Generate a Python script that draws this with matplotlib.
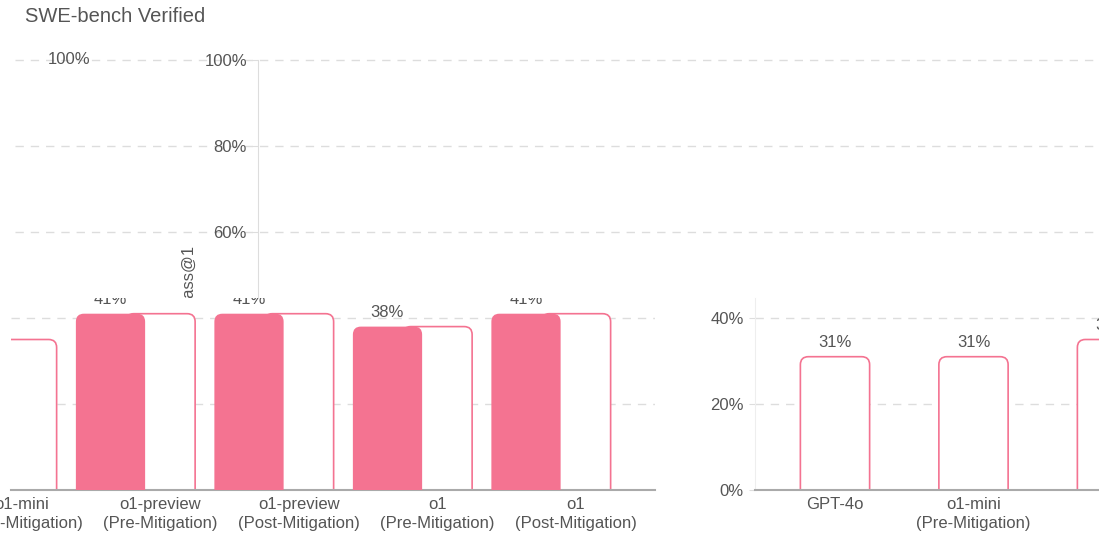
import matplotlib
matplotlib.use("Agg")
import matplotlib.pyplot as plt
from matplotlib.patches import FancyBboxPatch

plt.rcParams['font.family'] = ['Liberation Sans', 'DejaVu Sans']

# ---- data ----
title = "SWE-bench Verified"
ylabel = "Pass@1"
categories = ['GPT-4o', 'o1-mini\n(Pre-Mitigation)', 'o1-mini\n(Post-Mitigation)',
              'o1-preview\n(Pre-Mitigation)', 'o1-preview\n(Post-Mitigation)',
              'o1\n(Pre-Mitigation)', 'o1\n(Post-Mitigation)']
values = [31, 31, 35, 41, 41, 38, 41]
top_ticks = [60, 80, 100]
bottom_ticks = [0, 20, 40]

PINK = '#F47391'
TXT = '#555555'
GRID = '#dddddd'

W, H = 1099, 533
fig = plt.figure(figsize=(W / 100, H / 100), dpi=100)


def rect(x0, y0, x1, y1):
    return [x0 / W, 1 - y1 / H, (x1 - x0) / W, (y1 - y0) / H]


BASE = 490.0     # pixel row of 0%
PPP = 4.3        # pixels per percent
STEP = 138.5     # pixels per category


def ylim_px(ytop, ybot):
    return ((BASE - ybot) / PPP, (BASE - ytop) / PPP)


def rounded_bars(ax, xs, hs, filled, width=0.5):
    bars = ax.bar(xs, hs, width=width)
    r = 8.0 / STEP
    for b in bars:
        b.set_visible(False)
        x, w, h = b.get_x(), b.get_width(), b.get_height()
        p = FancyBboxPatch((x, -5), w, h + 5,
                           boxstyle=f"round,pad=0,rounding_size={r}",
                           mutation_aspect=STEP / PPP,
                           facecolor=PINK if filled else 'white',
                           edgecolor=PINK, linewidth=1.2 if not filled else 0,
                           zorder=3 if filled else 2.5, clip_on=True)
        ax.add_patch(p)
    return bars


def style_grid(ax):
    ax.grid(axis='y', color=GRID, linestyle=(0, (6, 5)), linewidth=1.0, zorder=0)
    ax.set_axisbelow(True)


# ---- title and stray labels ----
fig.text(25 / W, 1 - 16 / H, title, fontsize=14.5, color=TXT, va='center', ha='left')
fig.text(188 / W, 1 - 275 / H, ylabel, fontsize=12, color=TXT, rotation=90,
         va='center', ha='center', zorder=-1)
fig.text(90 / W, 1 - 60 / H, "100%", fontsize=12, color=TXT, va='center', ha='right')

idx = list(range(len(categories)))

# ---- top axes (upper part of the y scale) ----
axt = fig.add_axes(rect(15, 55, 1099, 298))
axt.set_facecolor('none')
for s in ['top', 'right', 'bottom']:
    axt.spines[s].set_visible(False)
axt.spines['left'].set_position(('axes', (258 - 15) / (1099 - 15)))
axt.spines['left'].set_color(GRID)
axt.set_yticks(top_ticks)
axt.set_yticklabels([f"{t}%" for t in top_ticks])
axt.tick_params(axis='y', colors=GRID, labelcolor=TXT, labelsize=12, length=4, pad=4)
axt.set_xticks([])
axt.set_ylim(*ylim_px(55, 298))
axt.set_xlim(0, 1)
axt.spines['left'].set_bounds(ylim_px(55, 298)[0], 100)
style_grid(axt)

# ---- bottom-left block ----
axl = fig.add_axes(rect(11, 298, 655, 490))
axl.set_facecolor('white')
shift = 50 / STEP
rounded_bars(axl, idx, values, filled=False)
rounded_bars(axl, [i - shift for i in idx[3:]], values[3:], filled=True)
for i, v in zip(idx[3:], values[3:]):
    axl.text(i - shift, v + 3.2, f"{v}%", ha='center', va='center',
             fontsize=12, color=TXT, clip_on=True)
axl.set_xticks(idx)
axl.set_xticklabels(categories, fontsize=12, color=TXT, linespacing=1.3)
axl.tick_params(axis='x', length=0, pad=5)
axl.set_yticks(bottom_ticks)
axl.tick_params(axis='y', length=0, labelleft=False)
axl.set_ylim(*ylim_px(298, 490))
axl.set_xlim(2 + (11 - 22) / STEP, 2 + (655 - 22) / STEP)
for s in ['top', 'right', 'left']:
    axl.spines[s].set_visible(False)
axl.spines['bottom'].set_color('#aaaaaa')
axl.spines['bottom'].set_linewidth(1.5)
style_grid(axl)

# ---- bottom-right block ----
axr = fig.add_axes(rect(755, 298, 1099, 490))
axr.set_facecolor('white')
rounded_bars(axr, idx, values, filled=False)
for i, v in zip(idx, values):
    axr.text(i, v + 3.2, f"{v}%", ha='center', va='center',
             fontsize=12, color=TXT, clip_on=True)
axr.set_xticks(idx)
axr.set_xticklabels(categories, fontsize=12, color=TXT, linespacing=1.3)
axr.tick_params(axis='x', length=0, pad=5)
axr.set_yticks(bottom_ticks)
axr.set_yticklabels([f"{t}%" for t in bottom_ticks])
axr.tick_params(axis='y', colors=GRID, labelcolor=TXT, labelsize=12, length=4, pad=4)
axr.set_ylim(*ylim_px(298, 490))
axr.set_xlim((755 - 835) / STEP, (1099 - 835) / STEP)
for s in ['top', 'right']:
    axr.spines[s].set_visible(False)
axr.spines['left'].set_color('#eeeeee')
axr.spines['bottom'].set_color('#aaaaaa')
axr.spines['bottom'].set_linewidth(1.5)
style_grid(axr)

fig.savefig("out.png", dpi=100)
